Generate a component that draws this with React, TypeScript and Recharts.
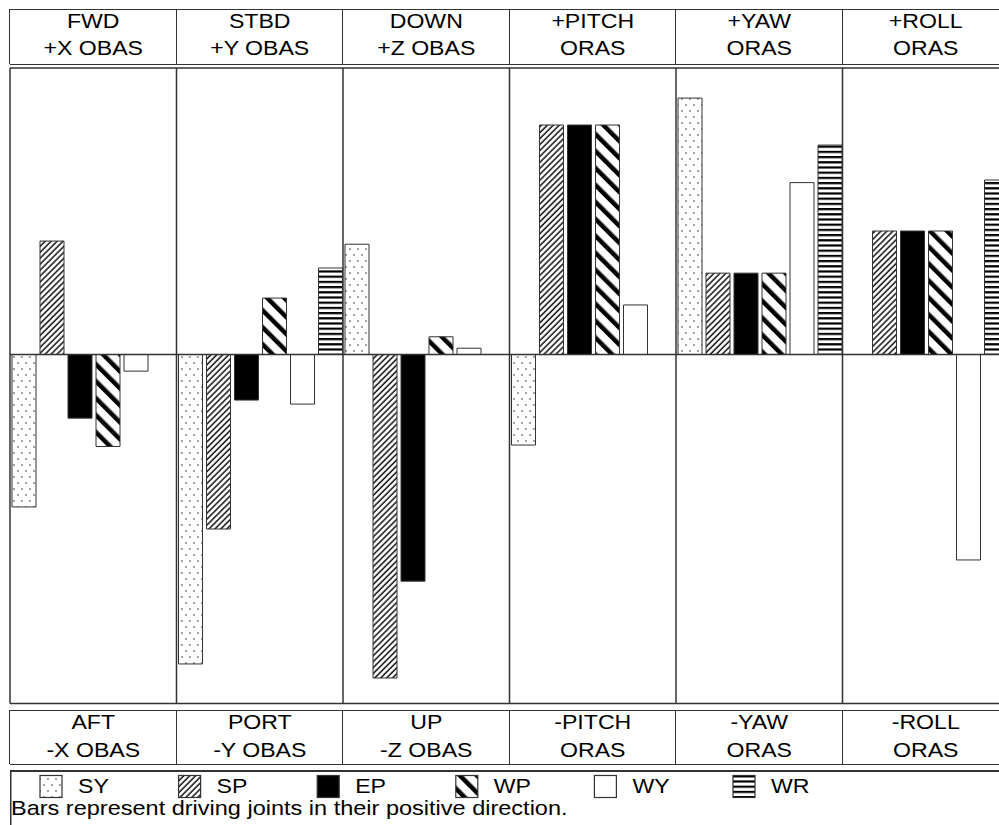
import { BarChart, Bar, XAxis, YAxis, CartesianGrid, ReferenceLine } from 'recharts';

// panel headings (two lines each)
const TOP_LINE1 = ['FWD', 'STBD', 'DOWN', '+PITCH', '+YAW', '+ROLL'];
const TOP_LINE2 = ['+X OBAS', '+Y OBAS', '+Z OBAS', 'ORAS', 'ORAS', 'ORAS'];
const BOTTOM_LINE1 = ['AFT', 'PORT', 'UP', '-PITCH', '-YAW', '-ROLL'];
const BOTTOM_LINE2 = ['-X OBAS', '-Y OBAS', '-Z OBAS', 'ORAS', 'ORAS', 'ORAS'];

// joint series, one value per panel
const SERIES = ['SY', 'SP', 'EP', 'WP', 'WY', 'WR'];
const SY = [-0.532, -1.08, 0.385, -0.316, 0.895, 0];
const SP = [0.396, -0.609, -1.129, 0.801, 0.284, 0.431];
const EP = [-0.222, -0.159, -0.791, 0.801, 0.284, 0.431];
const WP = [-0.321, 0.197, 0.062, 0.801, 0.284, 0.431];
const WY = [-0.058, -0.173, 0.022, 0.173, 0.6, -0.717];
const WR = [0, 0.302, 0, 0, 0.731, 0.609];

const VALUES: Record<string, number[]> = { SY, SP, EP, WP, WY, WR };
const FILLS: Record<string, string> = {
  SY: 'url(#pSY)',
  SP: 'url(#pSP)',
  EP: '#000',
  WP: 'url(#pWP)',
  WY: '#fff',
  WR: 'url(#pWR)',
};

const data = TOP_LINE1.map((t, i) => {
  const row: Record<string, string | number> = { top: t, bottom: BOTTOM_LINE1[i] };
  for (const s of SERIES) row[s] = VALUES[s][i];
  return row;
});

const FONT = '"Liberation Sans", Arial, sans-serif';
const LINE = '#333';
const PANEL_W = 166.5;
const LEFT = 10;

function HeadTick(props: any) {
  const { x, payload } = props;
  const i = TOP_LINE1.indexOf(payload.value);
  return (
    <g transform={`translate(${x} 0) scale(1.1 1)`} fontFamily={FONT} fontSize={21} fill="#000">
      <text x={0} y={28} textAnchor="middle">{TOP_LINE1[i]}</text>
      <text x={0} y={55} textAnchor="middle">{TOP_LINE2[i]}</text>
    </g>
  );
}

function FootTick(props: any) {
  const { x, payload } = props;
  const i = BOTTOM_LINE1.indexOf(payload.value);
  return (
    <g transform={`translate(${x} 0) scale(1.1 1)`} fontFamily={FONT} fontSize={21} fill="#000">
      <text x={0} y={729} textAnchor="middle">{BOTTOM_LINE1[i]}</text>
      <text x={0} y={757} textAnchor="middle">{BOTTOM_LINE2[i]}</text>
    </g>
  );
}

function Patterns() {
  return (
    <defs>
      <pattern id="pSY" patternUnits="userSpaceOnUse" width={8} height={12}>
        <rect width={8} height={12} fill="#fff" />
        <circle cx={2} cy={3} r={0.9} fill="#777" />
        <circle cx={6} cy={9} r={0.9} fill="#777" />
      </pattern>
      <pattern id="pSP" patternUnits="userSpaceOnUse" width={4.2} height={4.2} patternTransform="rotate(45)">
        <rect width={4.2} height={4.2} fill="#fff" />
        <line x1={1} y1={0} x2={1} y2={4.2} stroke="#111" strokeWidth={1.5} />
      </pattern>
      <pattern id="pWP" patternUnits="userSpaceOnUse" width={12} height={12} patternTransform="rotate(-45)">
        <rect width={12} height={12} fill="#fff" />
        <rect x={0} y={0} width={4.5} height={12} fill="#000" />
      </pattern>
      <pattern id="pWR" patternUnits="userSpaceOnUse" width={6} height={5.2}>
        <rect width={6} height={5.2} fill="#fff" />
        <rect x={0} y={0} width={6} height={2.2} fill="#000" />
      </pattern>
    </defs>
  );
}

function hLine(top: number) {
  return <div style={{ position: 'absolute', left: LEFT, top, width: 1000, height: 0, borderTop: `1.5px solid ${LINE}` }} />;
}

function vLines(top: number, height: number) {
  return [0, 1, 2, 3, 4, 5].map((i) => (
    <div
      key={`${top}-${i}`}
      style={{ position: 'absolute', left: LEFT + i * PANEL_W - 0.75, top, width: 0, height, borderLeft: `1.5px solid ${LINE}` }}
    />
  ));
}

function Legend() {
  return (
    <svg width={989} height={60} style={{ position: 'absolute', left: LEFT, top: 770 }}>
      <line x1={0} y1={1} x2={989} y2={1} stroke={LINE} strokeWidth={2} />
      <line x1={0.75} y1={0} x2={0.75} y2={60} stroke={LINE} strokeWidth={1.5} />
      {SERIES.map((s, i) => {
        const bx = 30 + i * 138.6;
        return (
          <g key={s}>
            <rect x={bx} y={5.5} width={22} height={22} fill={FILLS[s]} stroke={LINE} strokeWidth={1.2} />
            <g transform={`translate(${bx + 38} 0) scale(1.1 1)`}>
              <text x={0} y={23} fontFamily={FONT} fontSize={21} fill="#000">{s}</text>
            </g>
          </g>
        );
      })}
      <g transform="translate(1 0) scale(1.12 1)">
        <text x={0} y={45} fontFamily={FONT} fontSize={21} fill="#000">
          Bars represent driving joints in their positive direction.
        </text>
      </g>
    </svg>
  );
}

export default function App() {
  return (
    <div
      style={{
        position: 'fixed',
        left: 0,
        top: 0,
        width: 999,
        height: 825,
        overflow: 'hidden',
        background: '#fff',
        fontFamily: FONT,
      }}
    >
      <div style={{ position: 'absolute', left: 0, top: 0 }}>
        <BarChart
          width={1020}
          height={825}
          data={data}
          margin={{ top: 9, right: 11, bottom: 60.5, left: LEFT }}
          barCategoryGap={2}
          barGap={4}
        >
          <Patterns />
          <CartesianGrid
            xAxisId="top"
            horizontal={false}
            stroke={LINE}
            strokeWidth={1.5}
            strokeDasharray=""
            verticalCoordinatesGenerator={({ offset }: any) =>
              [0, 1, 2, 3, 4, 5].map((i) => offset.left + (i * offset.width) / 6)
            }
          />
          <XAxis
            xAxisId="top"
            orientation="top"
            dataKey="top"
            height={59}
            interval={0}
            tickLine={false}
            axisLine={{ stroke: LINE, strokeWidth: 1.5 }}
            tick={<HeadTick />}
          />
          <XAxis
            xAxisId="bottom"
            orientation="bottom"
            dataKey="bottom"
            height={61}
            interval={0}
            tickLine={false}
            axisLine={{ stroke: LINE, strokeWidth: 1.5 }}
            tick={<FootTick />}
          />
          <YAxis hide domain={[-1.218, 1]} allowDataOverflow />
          <ReferenceLine xAxisId="top" y={0} stroke={LINE} strokeWidth={1.5} />
          {SERIES.map((s) => (
            <Bar
              key={s}
              xAxisId="top"
              dataKey={s}
              name={s}
              fill={FILLS[s]}
              stroke={LINE}
              strokeWidth={1}
              isAnimationActive={false}
            />
          ))}
        </BarChart>
      </div>
      {hLine(9)}
      {hLine(64)}
      {vLines(9, 55)}
      {hLine(710)}
      {hLine(764)}
      {vLines(710, 54)}
      <Legend />
    </div>
  );
}
